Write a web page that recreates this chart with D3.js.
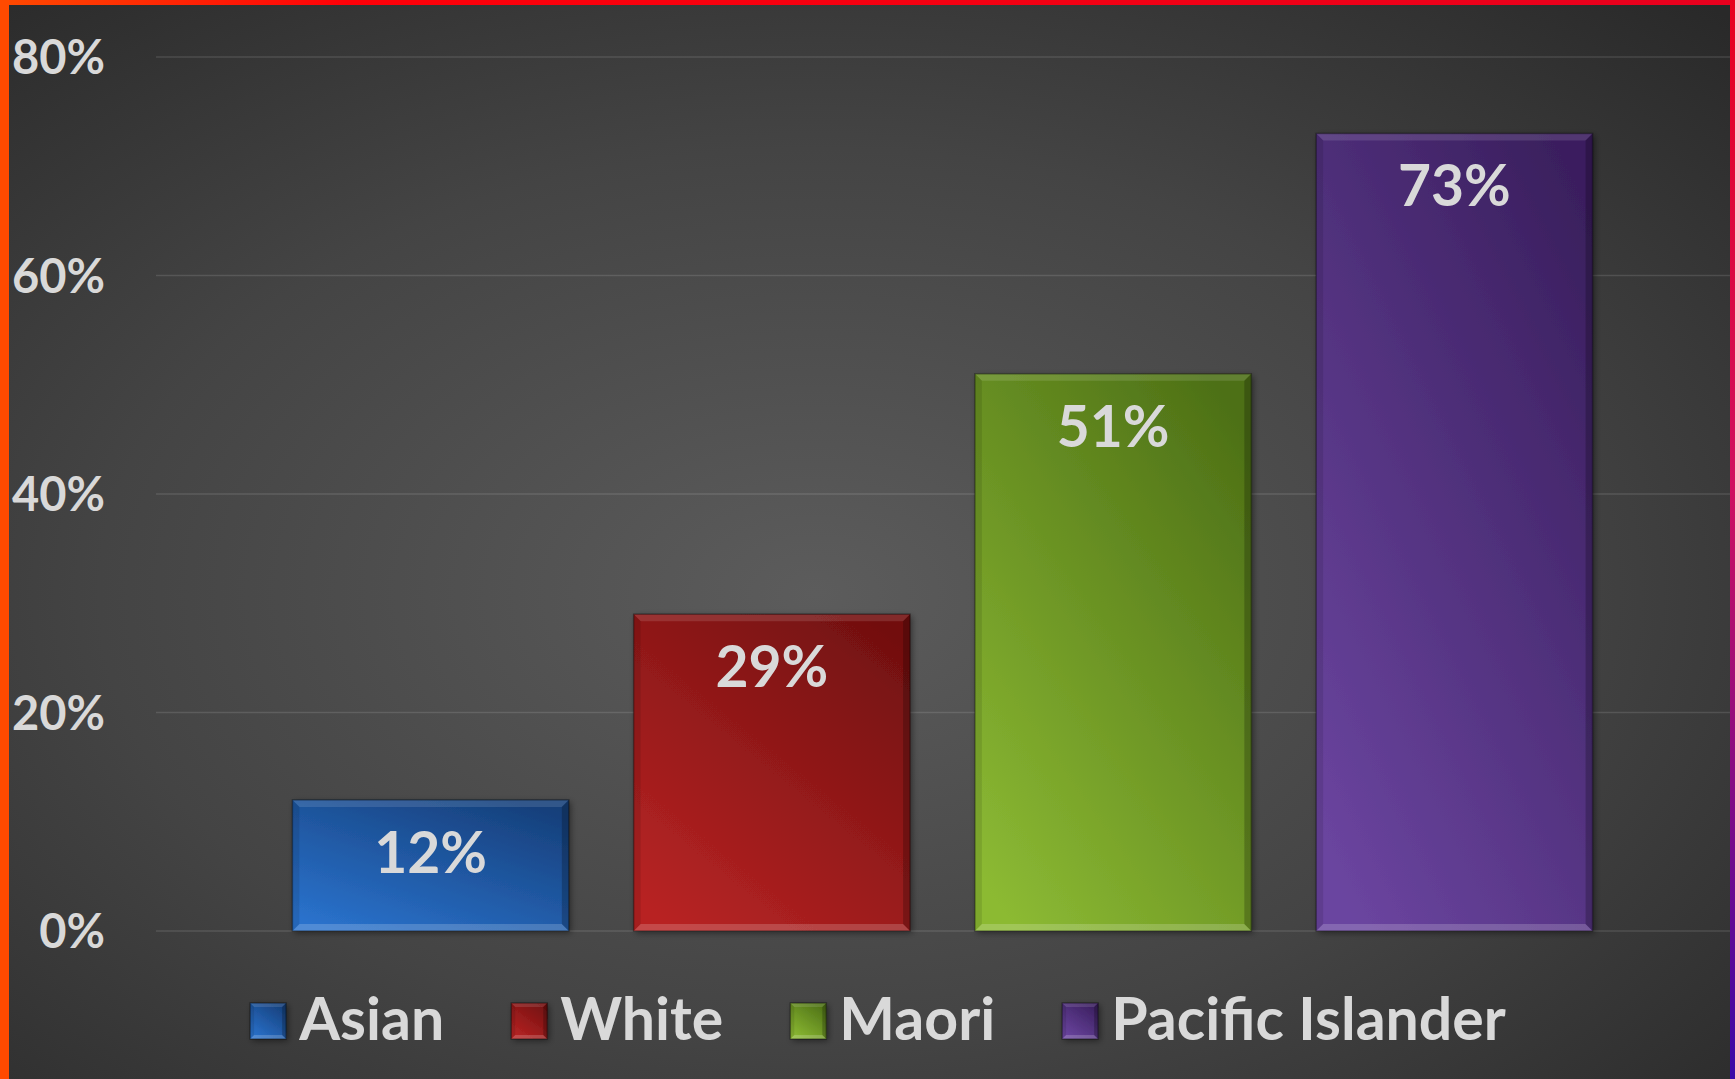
<!DOCTYPE html>
<html>
<head>
<meta charset="utf-8">
<script src="https://cdn.jsdelivr.net/npm/d3@7"></script>
<style>
  html, body { margin: 0; padding: 0; background: #2a2a2a; overflow: hidden; }
  text { font-family: Lato, "Open Sans", sans-serif; font-weight: bold; fill: #d9d9d9; }
</style>
</head>
<body>
<script>
// dati
var categories = ["Asian", "White", "Maori", "Pacific Islander"];
var values = [0.12, 0.29, 0.51, 0.73];
var yTicks = [0, 0.2, 0.4, 0.6, 0.8];
var tickLabels = ["0%", "20%", "40%", "60%", "80%"];
var barColors = [
  {light: "#2a72cc", dark: "#163f7a"},
  {light: "#b82424", dark: "#721010"},
  {light: "#8cba33", dark: "#4d7016"},
  {light: "#6b45a0", dark: "#3a1f5e"}
];

var W = 1735, H = 1079;

var svg = d3.select("body").append("svg")
    .attr("width", W)
    .attr("height", H);

var defs = svg.append("defs");

// sfondo
var bg = defs.append("radialGradient").attr("id", "bg")
    .attr("cx", "0.47").attr("cy", "0.55").attr("r", "0.75");
bg.append("stop").attr("offset", "0").attr("stop-color", "#5c5c5c");
bg.append("stop").attr("offset", "0.55").attr("stop-color", "#444444");
bg.append("stop").attr("offset", "1").attr("stop-color", "#292929");

svg.append("rect").attr("width", W).attr("height", H).attr("fill", "url(#bg)");

// gradienti barre
barColors.forEach(function(c, i){
  var g = defs.append("linearGradient").attr("id", "bar" + i)
      .attr("x1", "0.15").attr("y1", "1").attr("x2", "0.85").attr("y2", "0");
  g.append("stop").attr("offset", "0").attr("stop-color", c.light);
  g.append("stop").attr("offset", "1").attr("stop-color", c.dark);
});

var shadow = defs.append("filter").attr("id", "shadow")
    .attr("x", "-10%").attr("y", "-10%").attr("width", "130%").attr("height", "130%");
shadow.append("feDropShadow").attr("dx", 2).attr("dy", 2).attr("stdDeviation", 3)
    .attr("flood-color", "#000").attr("flood-opacity", 0.45);

// scale
var y = d3.scaleLinear().domain([0, 0.8]).range([931, 57]);
var x = d3.scaleBand().domain(categories).range([260, 1625])
    .paddingInner(0.19).paddingOuter(0.095);

// griglia
svg.append("g").selectAll("line")
  .data(yTicks)
  .enter().append("line")
    .attr("x1", 156).attr("x2", 1730)
    .attr("y1", function(d){ return y(d); })
    .attr("y2", function(d){ return y(d); })
    .attr("stroke", "rgba(255,255,255,0.12)")
    .attr("stroke-width", 1.5);

// etichette asse y
svg.append("g").selectAll("text")
  .data(yTicks)
  .enter().append("text")
    .attr("x", 105)
    .attr("y", function(d){ return y(d) + 17; })
    .attr("text-anchor", "end")
    .style("font-size", "47px")
    .text(function(d, i){ return tickLabels[i]; });

// barra con effetto smussato
function bevelBox(g, x0, y0, w, h, i, b){
  g.append("rect")
    .attr("x", x0).attr("y", y0).attr("width", w).attr("height", h)
    .attr("fill", "url(#bar" + i + ")")
    .attr("filter", "url(#shadow)");
  var x1 = x0 + w, y1 = y0 + h;
  // top
  g.append("path")
    .attr("d", `M${x0} ${y0} L${x1} ${y0} L${x1 - b} ${y0 + b} L${x0 + b} ${y0 + b} Z`)
    .attr("fill", "#fff").attr("opacity", 0.12);
  // left
  g.append("path")
    .attr("d", `M${x0} ${y0} L${x0 + b} ${y0 + b} L${x0 + b} ${y1 - b} L${x0} ${y1} Z`)
    .attr("fill", "#000").attr("opacity", 0.1);
  // bottom
  g.append("path")
    .attr("d", `M${x0} ${y1} L${x0 + b} ${y1 - b} L${x1 - b} ${y1 - b} L${x1} ${y1} Z`)
    .attr("fill", "#fff").attr("opacity", 0.18);
  // right
  g.append("path")
    .attr("d", `M${x1} ${y0} L${x1} ${y1} L${x1 - b} ${y1 - b} L${x1 - b} ${y0 + b} Z`)
    .attr("fill", "#000").attr("opacity", 0.22);
  g.append("rect")
    .attr("x", x0).attr("y", y0).attr("width", w).attr("height", h)
    .attr("fill", "none").attr("stroke", "#000").attr("stroke-opacity", 0.35)
    .attr("stroke-width", 1.5);
}

var bars = svg.append("g").selectAll("g")
  .data(values)
  .enter().append("g");

bars.each(function(d, i){
  var g = d3.select(this);
  var bx = x(categories[i]);
  bevelBox(g, bx, y(d), x.bandwidth(), y(0) - y(d), i, 7);
  g.append("text")
    .attr("x", bx + x.bandwidth() / 2)
    .attr("y", y(d) + 73)
    .attr("text-anchor", "middle")
    .style("font-size", "57px")
    .text(Math.round(d * 100) + "%");
});

// legenda
var legend = svg.append("g");
var lx = 245, sq = 36;
categories.forEach(function(c, i){
  var item = legend.append("g");
  bevelBox(item, lx, 1003, sq, sq, i, 4);
  var t = item.append("text")
    .attr("x", lx + sq + 13)
    .attr("y", 1040)
    .style("font-size", "59px")
    .text(c);
  lx += sq + 13 + t.node().getComputedTextLength() + 67;
});
// centra la legenda
var lb = legend.node().getBBox();
legend.attr("transform", `translate(${878 - (lb.x + lb.width / 2)}, 0)`);

// bordo
var gTop = defs.append("linearGradient").attr("id", "btop")
    .attr("x1", "0").attr("x2", "1").attr("y1", "0").attr("y2", "0");
gTop.append("stop").attr("offset", "0").attr("stop-color", "#ff4a00");
gTop.append("stop").attr("offset", "0.2").attr("stop-color", "#ff0008");
gTop.append("stop").attr("offset", "1").attr("stop-color", "#e8001e");
var gRight = defs.append("linearGradient").attr("id", "bright")
    .attr("x1", "0").attr("x2", "0").attr("y1", "0").attr("y2", "1");
gRight.append("stop").attr("offset", "0").attr("stop-color", "#e8001e");
gRight.append("stop").attr("offset", "0.45").attr("stop-color", "#d01060");
gRight.append("stop").attr("offset", "1").attr("stop-color", "#3a08a8");

svg.append("rect").attr("x", 0).attr("y", 0).attr("width", W).attr("height", 5).attr("fill", "url(#btop)");
svg.append("rect").attr("x", 0).attr("y", 0).attr("width", 9).attr("height", H).attr("fill", "#ff4a00");
svg.append("rect").attr("x", W - 5).attr("y", 0).attr("width", 5).attr("height", H).attr("fill", "url(#bright)");
</script>
</body>
</html>
